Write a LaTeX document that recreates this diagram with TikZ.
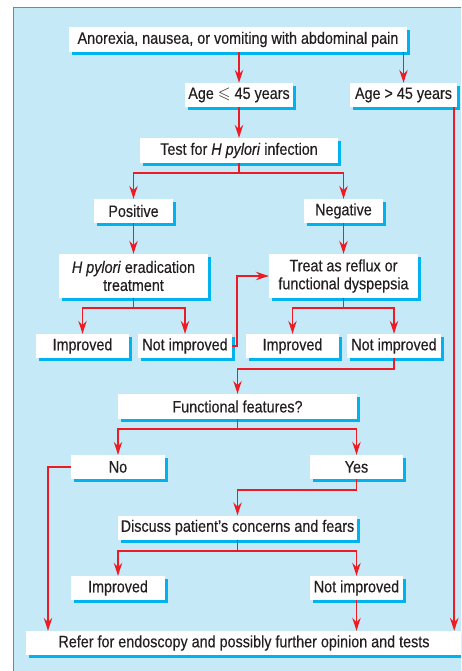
\documentclass[tikz,border=0pt]{standalone}
\usepackage{amssymb}
\usepackage{fontspec}
\setmainfont{Liberation Sans}[FakeStretch=0.87,FakeBold=0.3]
\usetikzlibrary{arrows.meta,shadows}
\definecolor{bgc}{HTML}{C6E9F8}
\definecolor{shadowc}{HTML}{00B2EE}
\definecolor{redc}{HTML}{ED1C24}
\definecolor{textc}{HTML}{231F20}
\tikzset{
  box/.style={fill=white, text=textc, inner sep=0pt, align=center,
    minimum height=24pt,
    font=\fontsize{16.5}{18}\selectfont,
    general shadow={fill=shadowc, shadow xshift=3pt, shadow yshift=-3pt}},
  arr/.style={draw=redc, line width=1.6pt, line join=miter,
    -{Stealth[length=13pt,width=8.5pt,inset=4.5pt]}},
}
\begin{document}
\begin{tikzpicture}[x=1pt,y=-1pt]
\useasboundingbox (0,0) rectangle (461,671);
\clip (0,0) rectangle (461,671);
\fill[bgc] (13,8) rectangle (475,685);
\draw[shadowc, line width=1pt] (13,685) -- (13,8) -- (475,8);

\node[box, minimum width=338pt, minimum height=25pt] (top) at (238,39.5) {Anorexia, nausea, or vomiting with abdominal pain};
\node[box, minimum width=108pt] (age1) at (239,95) {Age $\leqslant$ 45 years};
\node[box, minimum width=107pt] (age2) at (403.5,95) {Age > 45 years};
\node[box, minimum width=198pt, minimum height=25pt] (test) at (239,150.5) {Test for \textit{H pylori} infection};
\node[box, minimum width=79pt] (pos) at (133.5,211) {Positive};
\node[box, minimum width=79pt] (neg) at (343.5,211) {Negative};
\node[box, minimum width=149pt, minimum height=44pt] (erad) at (133.5,276) {\textit{H pylori} eradication\\treatment};
\node[box, minimum width=149pt, minimum height=44pt] (treat) at (343.5,276) {Treat as reflux or\\functional dyspepsia};
\node[box, minimum width=93pt] (imp1) at (82.5,346) {Improved};
\node[box, minimum width=94pt] (ni1) at (185,346) {Not improved};
\node[box, minimum width=93pt] (imp2) at (292.5,346) {Improved};
\node[box, minimum width=94pt] (ni2) at (394,346) {Not improved};
\node[box, minimum width=239pt, minimum height=25pt] (func) at (237.5,406.5) {Functional features?};
\node[box, minimum width=94pt] (no) at (118,467) {No};
\node[box, minimum width=93pt] (yes) at (356.5,467) {Yes};
\node[box, minimum width=239pt] (disc) at (237.5,527.5) {Discuss patient's concerns and fears};
\node[box, minimum width=94pt] (imp3) at (118,588) {Improved};
\node[box, minimum width=93pt] (ni3) at (356.5,588) {Not improved};
\node[box, minimum width=436pt] (refer) at (244,643) {Refer for endoscopy and possibly further opinion and tests};

\coordinate (a1) at (age1.north |- top.south);
\draw[arr] (a1) -- (age1.north);
\coordinate (a2t) at (age2.north |- top.south);
\draw[arr] (a2t) -- (age2.north);
\coordinate (a2) at ([xshift=-3pt]age2.south east);
\draw[arr] (a2) -- (a2 |- refer.north);
\draw[arr] (age1.south) -- (age1.south |- test.north);
\draw[arr] (test.south) -- ++(0,10) -| (pos.north);
\draw[arr] (test.south) -- ++(0,10) -| (neg.north);
\draw[arr] (pos.south) -- (erad.north);
\draw[arr] (neg.south) -- (treat.north);
\draw[arr] (erad.south) -- ++(0,10) -| (imp1.north);
\draw[arr] (erad.south) -- ++(0,10) -| (ni1.north);
\draw[arr] (treat.south) -- ++(0,10) -| (imp2.north);
\draw[arr] (treat.south) -- ++(0,10) -| (ni2.north);
\draw[arr] (ni1.east) -- ++(5,0) |- (treat.west);
\draw[arr] (ni2.south) -- ++(0,11) -| (func.north);
\draw[arr] (func.south) -- ++(0,10) -| (no.north);
\draw[arr] (func.south) -- ++(0,10) -| (yes.north);
\coordinate (nl) at (48,467);
\draw[arr] (no.west) -- (nl) -- (nl |- refer.north);
\draw[arr] (yes.south) -- ++(0,11) -| (disc.north);
\draw[arr] (disc.south) -- ++(0,11) -| (imp3.north);
\draw[arr] (disc.south) -- ++(0,11) -| (ni3.north);
\draw[arr] (ni3.south) -- (refer.north -| ni3.south);
\end{tikzpicture}
\end{document}
